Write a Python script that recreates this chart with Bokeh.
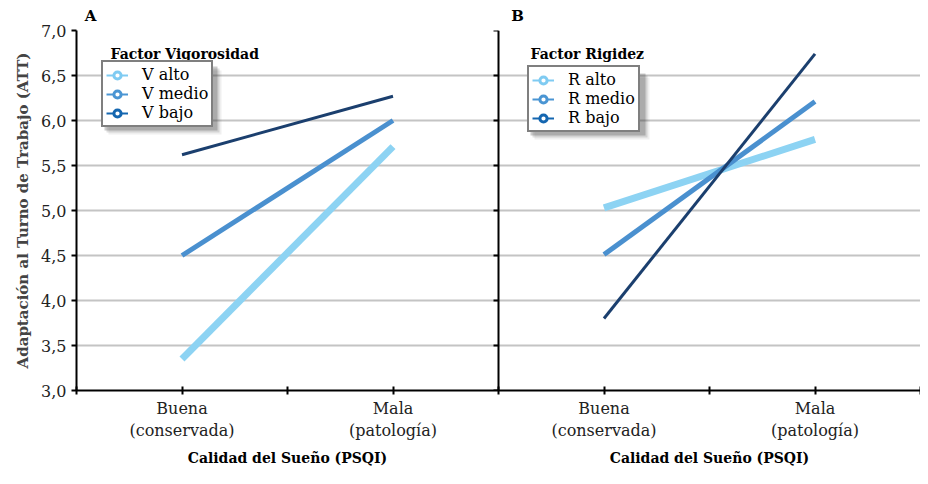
from bokeh.plotting import figure
from bokeh.models import (Legend, LegendItem, Label, Span, FixedTicker,
                          ColumnDataSource, BoxAnnotation, Range1d, LinearAxis)
from bokeh.embed import file_html
from bokeh.resources import INLINE
import math

# ---- data ----
categories = ["Buena\n(conservada)", "Mala\n(patología)"]
v_alto = [3.35, 5.71]
v_medio = [4.50, 6.00]
v_bajo = [5.62, 6.27]
r_alto = [5.03, 5.79]
r_medio = [4.51, 6.21]
r_bajo = [3.80, 6.74]
y_ticks = [3.0, 3.5, 4.0, 4.5, 5.0, 5.5, 6.0, 6.5, 7.0]
y_tick_labels = ["3,0", "3,5", "4,0", "4,5", "5,0", "5,5", "6,0", "6,5", "7,0"]
panels = ["A", "B"]
legend_titles = ["Factor Vigorosidad", "Factor Rigidez"]
series_names = [["V alto", "V medio", "V bajo"], ["R alto", "R medio", "R bajo"]]
x_title = "Calidad del Sueño (PSQI)"
y_title = "Adaptación al Turno de Trabajo (ATT)"

SERIF = "DejaVu Serif"
line_colors = ["#8DD3F3", "#4A90CF", "#1B3F6E"]
legend_colors = ["#7FCBF2", "#4A95D3", "#1466B0"]
line_widths = [7, 5, 3]

W, H = 920, 468
BL, BT, BB = 76, 30, 78
FW, FH = W - BL, H - BT - BB  # frame size

p = figure(width=W, height=H, x_range=(0, 4), y_range=(3, 7),
           output_backend="svg", toolbar_location=None,
           min_border_left=BL, min_border_right=0, min_border_top=BT,
           min_border_bottom=BB, outline_line_color=None,
           background_fill_color="white", border_fill_color="white")
# range used only by the legend-glyph renderers (keeps them out of the frame)
p.extra_y_ranges = {"legend_only": Range1d(100, 101)}

# picture-pixel -> data helpers (frame at x BL..W, y BT..BT+FH)
def dx(px):
    return (px - BL) / FW * 4.0
def dy(py):
    return 7.0 - (py - BT) / FH * 4.0

# axes
x_tick_vals = [i * 0.5 for i in range(9)]
overrides = {v: "" for v in x_tick_vals}
for k in range(2):
    for ci, c in enumerate(categories):
        overrides[k * 2 + ci + 0.5] = c
p.xaxis.ticker = FixedTicker(ticks=x_tick_vals)
p.xaxis.major_label_overrides = overrides
p.xaxis.minor_tick_line_color = None
p.xaxis.major_tick_in = 4
p.xaxis.major_tick_out = 4
p.xaxis.axis_line_width = 2
p.xaxis.major_tick_line_width = 2
p.xaxis.major_label_text_font = SERIF
p.xaxis.major_label_text_font_size = "16px"
p.xaxis.major_label_text_color = "#222222"
p.xaxis.major_label_standoff = 4

# axis carrying the two panel x titles
title_axis = LinearAxis(ticker=FixedTicker(ticks=[1.0, 3.0]),
                        major_label_overrides={1.0: x_title, 3.0: x_title},
                        axis_line_color=None, major_tick_line_color=None,
                        minor_tick_line_color=None,
                        major_tick_in=0, major_tick_out=0,
                        major_label_text_font=SERIF,
                        major_label_text_font_style="bold",
                        major_label_text_font_size="14px",
                        major_label_text_color="black",
                        major_label_standoff=6)
p.add_layout(title_axis, "below")

# axis carrying the panel letters
panel_axis = LinearAxis(ticker=FixedTicker(ticks=[dx(90), dx(517)]),
                        major_label_overrides={dx(90): panels[0], dx(517): panels[1]},
                        axis_line_color=None, major_tick_line_color=None,
                        minor_tick_line_color=None,
                        major_tick_in=0, major_tick_out=0,
                        major_label_text_font=SERIF,
                        major_label_text_font_style="bold",
                        major_label_text_font_size="15px",
                        major_label_text_color="black",
                        major_label_standoff=6)
p.add_layout(panel_axis, "above")

p.yaxis.ticker = FixedTicker(ticks=y_ticks)
p.yaxis.major_label_overrides = {t: l for t, l in zip(y_ticks, y_tick_labels)}
p.yaxis.minor_tick_line_color = None
p.yaxis.major_tick_in = 0
p.yaxis.major_tick_out = 5
p.yaxis.axis_line_width = 2
p.yaxis.major_tick_line_width = 2
p.yaxis.major_label_text_font = SERIF
p.yaxis.major_label_text_font_size = "16px"
p.yaxis.major_label_text_color = "#222222"
p.yaxis.major_label_standoff = 5
p.yaxis.axis_label = y_title
p.yaxis.axis_label_text_font = SERIF
p.yaxis.axis_label_text_font_style = "bold"
p.yaxis.axis_label_text_font_size = "15px"
p.yaxis.axis_label_standoff = 6

p.xgrid.grid_line_color = None
p.ygrid.ticker = FixedTicker(ticks=y_ticks)
p.ygrid.grid_line_color = "#C4C4C4"
p.ygrid.grid_line_width = 2

# divider between panels
p.add_layout(Span(location=2, dimension="height", line_color="black", line_width=2))
p.ray(x=[2] * len(y_ticks), y=y_ticks, length=5, length_units="screen",
      angle=math.pi, line_color="black", line_width=2)

all_series = [[v_alto, v_medio, v_bajo], [r_alto, r_medio, r_bajo]]
legend_pos = [(101, 63, 214, 127), (527, 70, 642, 132)]
title_pos = [(110, 53), (530, 53)]

for k in range(2):
    xs = [k * 2 + ci + 0.5 for ci in range(len(categories))]
    items = []
    for s in range(3):
        src = ColumnDataSource(dict(x=xs, y=all_series[k][s]))
        p.line(x="x", y="y", source=src, line_color=line_colors[s],
               line_width=line_widths[s])
        lr = p.line(x="x", y="y", source=src, y_range_name="legend_only",
                    line_color=legend_colors[s], line_width=2)
        sr = p.scatter(x="x", y="y", source=src, y_range_name="legend_only",
                       marker="circle", size=11, fill_color="white",
                       line_color=legend_colors[s], line_width=3)
        items.append(LegendItem(label=series_names[k][s], renderers=[lr, sr]))

    l, t, r, b = legend_pos[k]
    # soft shadow
    for off, a in [(7, 0.08), (5, 0.15), (3, 0.25)]:
        p.add_layout(BoxAnnotation(left=dx(l + off), right=dx(r + off),
                                   top=dy(t + off), bottom=dy(b + off),
                                   fill_color="#333333", fill_alpha=a,
                                   line_color=None))
    leg = Legend(items=items, location=(l - BL, BT + FH - b),
                 label_text_font=SERIF, label_text_font_size="16px",
                 label_text_color="black", label_height=18, label_standoff=14,
                 glyph_width=22, glyph_height=18, spacing=0, padding=3, margin=0,
                 border_line_color="black", border_line_width=2,
                 background_fill_color="white", background_fill_alpha=1)
    p.add_layout(leg, "center")

    tx, ty = title_pos[k]
    p.add_layout(Label(x=dx(tx), y=dy(ty), text=legend_titles[k],
                       text_font=SERIF, text_font_style="bold",
                       text_font_size="14px", text_baseline="middle",
                       text_align="left", text_color="black"))

open("out.html", "w").write(file_html(p, INLINE))
